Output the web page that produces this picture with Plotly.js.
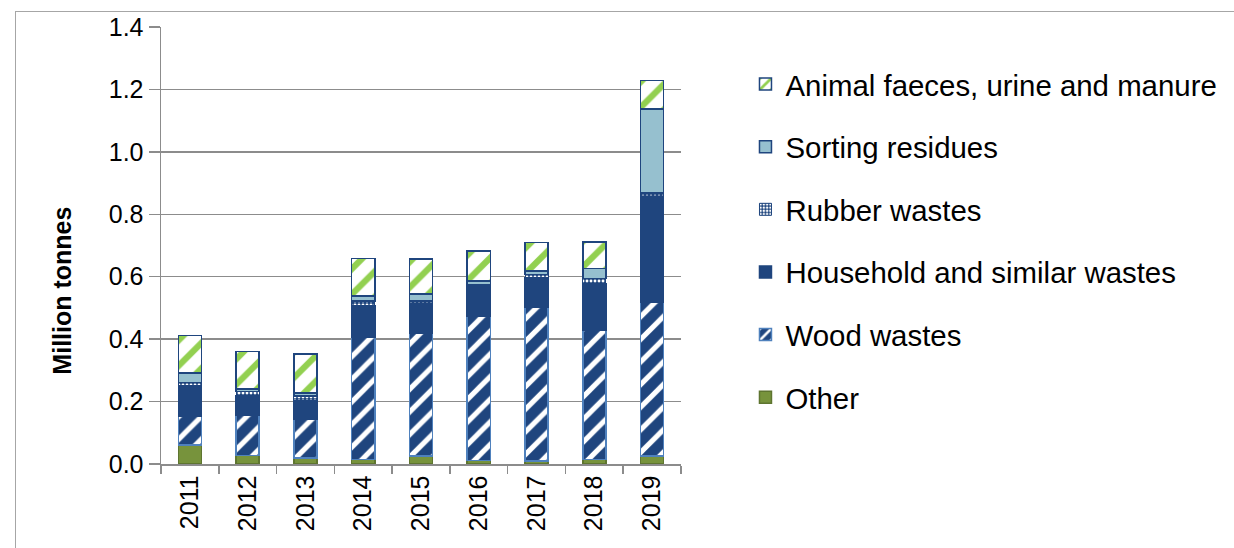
<!DOCTYPE html>
<html>
<head>
<meta charset="utf-8">
<script src="https://cdn.plot.ly/plotly-3.0.1.min.js"></script>
<style>
  html, body { margin: 0; padding: 0; background: #ffffff; }
  #frame { position: absolute; left: 15px; top: 11px; width: 1400px; height: 700px; border: 1.5px solid #a6a6a6; box-sizing: border-box; }
  #chart { position: absolute; left: 0; top: 0; width: 1234px; height: 548px; }
</style>
</head>
<body>
<div id="frame"></div>
<div id="chart"></div>
<script>
const years = ['2011', '2012', '2013', '2014', '2015', '2016', '2017', '2018', '2019'];
const other     = [0.061, 0.027, 0.020, 0.015, 0.026, 0.011, 0.010, 0.015, 0.026];
const wood      = [0.093, 0.130, 0.123, 0.390, 0.393, 0.463, 0.492, 0.414, 0.493];
const household = [0.097, 0.061, 0.062, 0.102, 0.096, 0.097, 0.095, 0.148, 0.337];
const rubber    = [0.010, 0.015, 0.013, 0.015, 0.007, 0.004, 0.010, 0.017, 0.012];
const sorting   = [0.030, 0.007, 0.009, 0.016, 0.022, 0.012, 0.011, 0.032, 0.270];
const animal    = [0.120, 0.120, 0.125, 0.121, 0.112, 0.096, 0.091, 0.086, 0.090];

const NAVY = '#1F457E';
const FONT = 'Liberation Sans, Arial, sans-serif';

function bar(name, y, rank, marker) {
  return { type: 'bar', name: name, x: years, y: y, marker: marker, legendgroup: name, legendrank: rank, hoverinfo: 'x+y+name' };
}

const data = [
  bar('Other', other, 6, { color: '#77933C', line: { color: '#5E7530', width: 1.5 } }),
  bar('Wood wastes', wood, 5, { color: NAVY, line: { color: '#4F81BD', width: 1.5 },
      pattern: { shape: '/', fgcolor: '#ffffff', bgcolor: NAVY, size: 16, solidity: 0.32, fillmode: 'replace' } }),
  bar('Household and similar wastes', household, 4, { color: NAVY, line: { color: NAVY, width: 1.5 } }),
  bar('Rubber wastes', rubber, 3, { color: NAVY, line: { color: NAVY, width: 1 },
      pattern: { shape: '.', fgcolor: '#ffffff', bgcolor: NAVY, size: 4, solidity: 0.4, fillmode: 'replace' } }),
  bar('Sorting residues', sorting, 2, { color: '#96C0CF', line: { color: NAVY, width: 1.5 } }),
  bar('Animal faeces, urine and manure', animal, 1, { color: '#ffffff', line: { color: NAVY, width: 1.5 },
      pattern: { shape: '/', fgcolor: '#92D050', bgcolor: '#ffffff', size: 18, solidity: 0.35, fillmode: 'replace' } })
];

const layout = {
  width: 1234, height: 548,
  margin: { l: 161, r: 550, t: 27, b: 84, pad: 0 },
  paper_bgcolor: 'rgba(0,0,0,0)',
  plot_bgcolor: 'rgba(0,0,0,0)',
  font: { family: FONT, color: '#000000', size: 25 },
  barmode: 'stack',
  bargap: 0.6,
  showlegend: true,
  legend: {
    x: 1.124, xanchor: 'left', y: 0.928, yanchor: 'top',
    traceorder: 'grouped', tracegroupgap: 21.4,
    font: { family: FONT, size: 29.4, color: '#000000' },
    bgcolor: 'rgba(0,0,0,0)', borderwidth: 0
  },
  xaxis: {
    type: 'category',
    tickangle: -90,
    tickfont: { family: FONT, size: 25, color: '#000000' },
    ticks: 'outside', tickson: 'boundaries', ticklen: 8, tickcolor: '#8c8c8c', tickwidth: 1.5,
    showline: true, linecolor: '#8c8c8c', linewidth: 1.5,
    showgrid: false, zeroline: false, fixedrange: true
  },
  yaxis: {
    range: [0, 1.4], dtick: 0.2, tick0: 0, tickformat: '.1f',
    tickfont: { family: FONT, size: 25, color: '#000000' },
    ticks: 'outside', ticklen: 11, tickcolor: '#8c8c8c', tickwidth: 1.5,
    showline: true, linecolor: '#8c8c8c', linewidth: 1.5,
    showgrid: true, gridcolor: '#8c8c8c', gridwidth: 1.5,
    zeroline: false, fixedrange: true
  },
  annotations: [{
    text: '<b>Million tonnes</b>', xref: 'paper', yref: 'paper',
    x: -0.191, y: 0.396, xanchor: 'center', yanchor: 'middle',
    textangle: -90, showarrow: false,
    font: { family: FONT, size: 25, color: '#000000' }
  }]
};

Plotly.newPlot('chart', data, layout, { displayModeBar: false, staticPlot: true });
</script>
</body>
</html>
